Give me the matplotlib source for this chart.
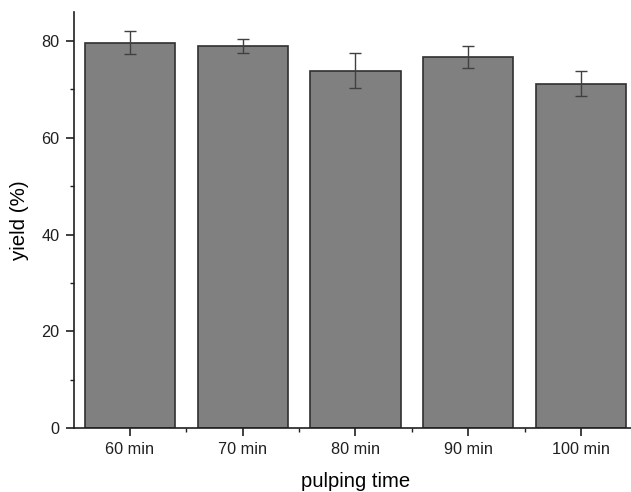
import numpy as np
import matplotlib
matplotlib.use("Agg")
import matplotlib.pyplot as plt
from matplotlib.ticker import MultipleLocator, FixedLocator

plt.rcParams['font.family'] = ['Liberation Sans', 'DejaVu Sans']

categories = ["60 min", "70 min", "80 min", "90 min", "100 min"]
yield_pct = [79.7, 79.0, 73.9, 76.7, 71.2]
yield_err = [2.3, 1.4, 3.6, 2.2, 2.6]

fig = plt.figure(figsize=(6.31, 4.92), dpi=100)
ax = fig.add_axes([0.1166, 0.130, 0.8935, 0.8455])

x = np.arange(len(categories))
ax.bar(x, yield_pct, width=0.8, color="#808080", edgecolor="#303030", linewidth=1.2,
       yerr=yield_err, capsize=4,
       error_kw=dict(ecolor="#404040", elinewidth=1.0, capthick=1.0))

ax.set_xlim(-0.5, 4.5)
ax.set_ylim(0, 86)
ax.set_xticks(x)
ax.set_xticklabels(categories)
ax.xaxis.set_minor_locator(FixedLocator(x[:-1] + 0.5))
ax.yaxis.set_major_locator(MultipleLocator(20))
ax.yaxis.set_minor_locator(MultipleLocator(10))

ax.spines['top'].set_visible(False)
ax.spines['right'].set_visible(False)
for s in ['left', 'bottom']:
    ax.spines[s].set_linewidth(1.2)
    ax.spines[s].set_color("#202020")

ax.tick_params(which='major', direction='out', length=6, width=1.2, labelsize=11.7, colors="#202020", pad=4)
ax.tick_params(which='minor', direction='out', length=3, width=1.0, colors="#202020")

ax.set_xlabel("pulping time", fontsize=14.6, labelpad=10.5)
ax.set_ylabel("yield (%)", fontsize=14.8, labelpad=9)

fig.savefig("out.png", dpi=100)
